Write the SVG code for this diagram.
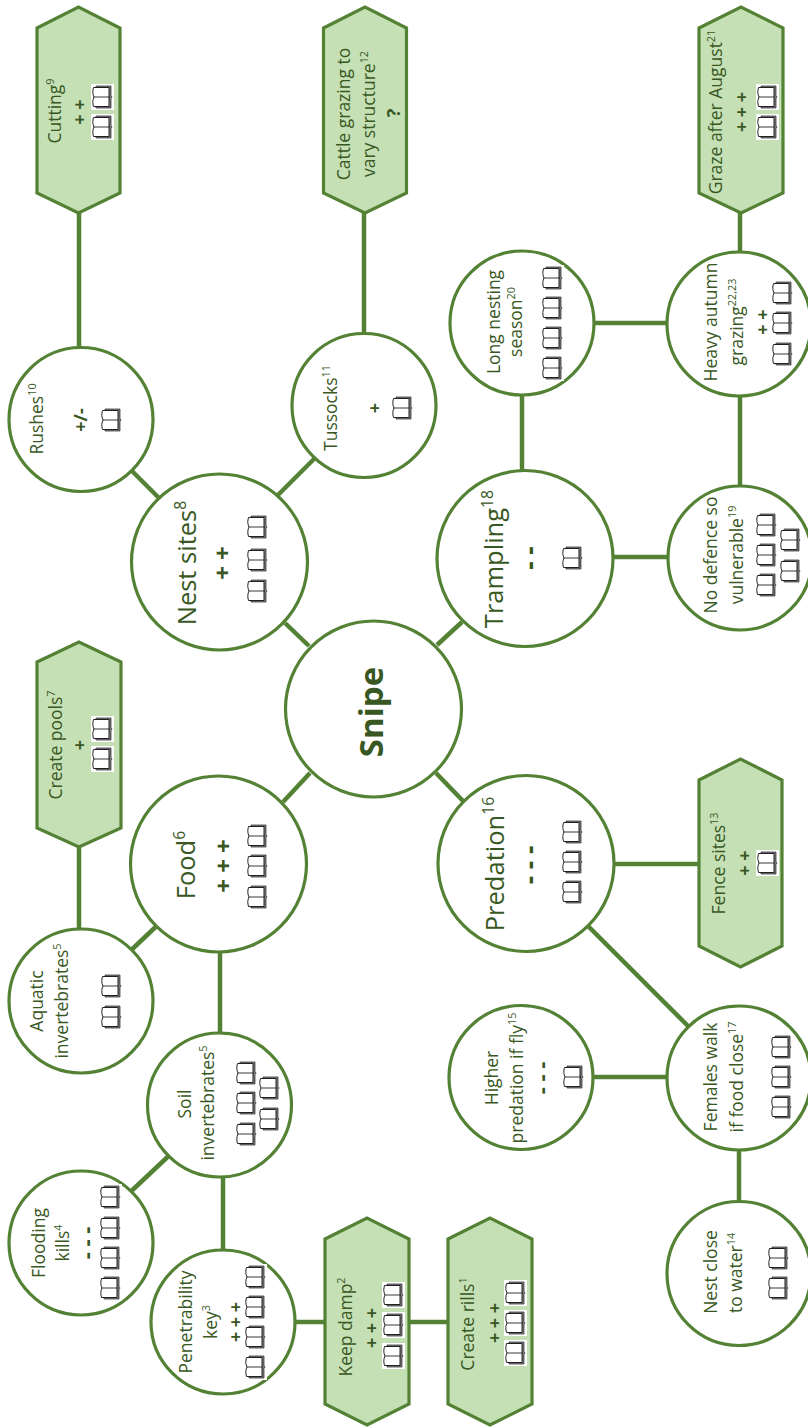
<svg xmlns="http://www.w3.org/2000/svg" width="808" height="1427" viewBox="0 0 808 1427">
<style>
text{font-family:"Open Sans","Liberation Sans",sans-serif;fill:#385723;text-anchor:middle}
.n{font-size:17.5px}.t{font-size:25.5px}.k{font-size:33px;font-weight:700}
.s{font-size:18px;font-weight:700}.b{font-size:24px;font-weight:700}.d{font-size:22px;font-weight:700}.e{font-size:26px;font-weight:700}
.u{font-size:0.62em}
.c{fill:#fff;stroke:#548235;stroke-width:3.2}
.h{fill:#C5E0B4;stroke:#548235;stroke-width:3.2}
#connectors line{stroke:#548235;stroke-width:4.5}
</style>
<defs>
<symbol id="b" width="23" height="26" viewBox="0 0 23 26">
<rect width="23" height="26" fill="#fff"/>
<path d="M5 2H20V11.5L21 13L20 14.500V24H5Z" fill="#808080" stroke="#222" stroke-width=".7"/>
<path d="M3 13C1.500 10 1.500 7 2.500 3.500H18V22.500H2.500C1.500 19 1.500 16 3 13Z" fill="#fff" stroke="#222" stroke-width="1"/>
<path d="M3 13H19" stroke="#222" stroke-width=".9" fill="none"/>
</symbol>
</defs>
<g id="connectors">
<line x1="285" y1="623" x2="309" y2="646"/><line x1="437" y1="645" x2="462" y2="622"/>
<line x1="283" y1="802" x2="310" y2="773"/><line x1="436" y1="773" x2="464" y2="802"/>
<line x1="125" y1="464" x2="165" y2="504"/><line x1="270" y1="503" x2="320" y2="453"/>
<line x1="79" y1="213" x2="79" y2="350"/><line x1="364" y1="213" x2="364" y2="340"/>
<line x1="522" y1="396" x2="522" y2="472"/><line x1="595" y1="323" x2="667" y2="323"/>
<line x1="740" y1="397" x2="740" y2="487"/><line x1="612" y1="557" x2="668" y2="557"/>
<line x1="740" y1="213" x2="740" y2="253"/><line x1="79" y1="847" x2="79" y2="930"/>
<line x1="125" y1="956" x2="165" y2="918"/><line x1="220" y1="950" x2="220" y2="1034"/>
<line x1="125" y1="1197" x2="175" y2="1150"/><line x1="223" y1="1176" x2="223" y2="1251"/>
<line x1="295" y1="1322" x2="325" y2="1322"/><line x1="409" y1="1322" x2="448" y2="1322"/>
<line x1="612" y1="864" x2="699" y2="864"/><line x1="593" y1="1077" x2="668" y2="1077"/>
<line x1="739" y1="1149" x2="739" y2="1203"/><line x1="580" y1="918" x2="690" y2="1028"/>
</g>
<g id="snipe"><circle class="c" cx="373.500" cy="709" r="88"/><text class="k" transform="translate(383,712) rotate(-90)">Snipe</text></g>
<g id="nest-sites"><circle class="c" cx="219.500" cy="562" r="88"/><text class="t" transform="translate(196,563) rotate(-90)">Nest sites<tspan class="u" dy="-10">8</tspan></text><text class="b" transform="translate(230.500,563) rotate(-90)">+ +</text><use href="#b" x="246" y="514"/><use href="#b" x="246" y="547"/><use href="#b" x="246" y="578"/></g>
<g id="food"><circle class="c" cx="218.500" cy="864" r="88"/><text class="t" transform="translate(195,865) rotate(-90)">Food<tspan class="u" dy="-10">6</tspan></text><text class="b" transform="translate(231.500,866) rotate(-90)">+ + +</text><use href="#b" x="246" y="823"/><use href="#b" x="246" y="853"/><use href="#b" x="246" y="884"/></g>
<g id="predation"><circle class="c" cx="526" cy="863.500" r="88"/><text class="t" transform="translate(504,864) rotate(-90)">Predation<tspan class="u" dy="-10">16</tspan></text><text class="e" transform="translate(539,865) rotate(-90)">- - -</text><use href="#b" x="561" y="819"/><use href="#b" x="561" y="849"/><use href="#b" x="561" y="879"/></g>
<g id="trampling"><circle class="c" cx="525" cy="558.500" r="88"/><text class="t" transform="translate(503,559) rotate(-90)">Trampling<tspan class="u" dy="-10">18</tspan></text><text class="e" transform="translate(539,558) rotate(-90)">- -</text><use href="#b" x="561" y="545"/></g>
<g id="rushes"><circle class="c" cx="81" cy="419.500" r="72"/><text class="n" transform="translate(43,419) rotate(-90)">Rushes<tspan class="u" dy="-7">10</tspan></text><text class="s" transform="translate(87,420) rotate(-90)">+/-</text><use href="#b" x="100" y="407"/></g>
<g id="tussocks"><circle class="c" cx="364" cy="405.500" r="72"/><text class="n" transform="translate(337,408) rotate(-90)">Tussocks<tspan class="u" dy="-7">11</tspan></text><text class="s" transform="translate(380.500,408) rotate(-90)">+</text><use href="#b" x="391" y="395"/></g>
<g id="long-nesting"><circle class="c" cx="522" cy="323" r="72"/><text class="n" transform="translate(500,322) rotate(-90)">Long nesting</text><text class="n" transform="translate(522,322) rotate(-90)">season<tspan class="u" dy="-7">20</tspan></text><use href="#b" x="541" y="265"/><use href="#b" x="541" y="295"/><use href="#b" x="541" y="325"/><use href="#b" x="541" y="355"/></g>
<g id="heavy-autumn"><circle class="c" cx="739" cy="324" r="72"/><text class="n" transform="translate(717,322) rotate(-90)">Heavy autumn</text><text class="n" transform="translate(743,322) rotate(-90)">grazing<tspan class="u" dy="-7">22,23</tspan></text><text class="s" transform="translate(768.500,322) rotate(-90)">+ +</text><use href="#b" x="771" y="280"/><use href="#b" x="771" y="310"/><use href="#b" x="771" y="341"/></g>
<g id="no-defence"><circle class="c" cx="740" cy="558" r="72"/><text class="n" transform="translate(717,555) rotate(-90)">No defence so</text><text class="n" transform="translate(743,555) rotate(-90)">vulnerable<tspan class="u" dy="-7">19</tspan></text><use href="#b" x="755" y="512"/><use href="#b" x="755" y="542"/><use href="#b" x="755" y="572"/><use href="#b" x="779" y="527"/><use href="#b" x="779" y="558"/></g>
<g id="aquatic"><circle class="c" cx="81" cy="1001" r="72"/><text class="n" transform="translate(43,1001) rotate(-90)">Aquatic</text><text class="n" transform="translate(68,1001) rotate(-90)">invertebrates<tspan class="u" dy="-7">5</tspan></text><use href="#b" x="100" y="973"/><use href="#b" x="100" y="1004"/></g>
<g id="soil"><circle class="c" cx="219.500" cy="1105" r="72"/><text class="n" transform="translate(191,1104) rotate(-90)">Soil</text><text class="n" transform="translate(214,1103) rotate(-90)">invertebrates<tspan class="u" dy="-7">5</tspan></text><use href="#b" x="235" y="1060"/><use href="#b" x="235" y="1090"/><use href="#b" x="235" y="1121"/><use href="#b" x="258" y="1075"/><use href="#b" x="258" y="1106"/></g>
<g id="flooding"><circle class="c" cx="81" cy="1243" r="72"/><text class="n" transform="translate(45,1243) rotate(-90)">Flooding</text><text class="n" transform="translate(69,1243) rotate(-90)">kills<tspan class="u" dy="-7">4</tspan></text><text class="d" transform="translate(94,1243) rotate(-90)">- - -</text><use href="#b" x="99" y="1184"/><use href="#b" x="99" y="1215"/><use href="#b" x="99" y="1245"/><use href="#b" x="99" y="1275"/></g>
<g id="penetrability"><circle class="c" cx="223" cy="1322" r="72"/><text class="n" transform="translate(192,1322) rotate(-90)">Penetrability</text><text class="n" transform="translate(217,1322) rotate(-90)">key<tspan class="u" dy="-7">3</tspan></text><text class="s" transform="translate(241.500,1322) rotate(-90)">+ + +</text><use href="#b" x="244" y="1264"/><use href="#b" x="244" y="1294"/><use href="#b" x="244" y="1324"/><use href="#b" x="244" y="1354"/></g>
<g id="higher-predation"><circle class="c" cx="521" cy="1077.500" r="72"/><text class="n" transform="translate(498,1078) rotate(-90)">Higher</text><text class="n" transform="translate(523,1078) rotate(-90)">predation if fly<tspan class="u" dy="-7">15</tspan></text><text class="d" transform="translate(549,1078) rotate(-90)">- - -</text><use href="#b" x="562" y="1064"/></g>
<g id="females"><circle class="c" cx="739" cy="1078" r="72"/><text class="n" transform="translate(717,1077) rotate(-90)">Females walk</text><text class="n" transform="translate(743,1077) rotate(-90)">if food close<tspan class="u" dy="-7">17</tspan></text><use href="#b" x="770" y="1034"/><use href="#b" x="770" y="1064"/><use href="#b" x="770" y="1094"/></g>
<g id="nest-close"><circle class="c" cx="739" cy="1273.500" r="72"/><text class="n" transform="translate(717,1272) rotate(-90)">Nest close</text><text class="n" transform="translate(742,1273) rotate(-90)">to water<tspan class="u" dy="-7">14</tspan></text><use href="#b" x="767" y="1245"/><use href="#b" x="767" y="1275"/></g>
<g id="cutting"><polygon class="h" points="37,28 78.500,7 120,28 120,193 78.500,213 37,193"/><text class="n" transform="translate(61,111) rotate(-90)">Cutting<tspan class="u" dy="-7">9</tspan></text><text class="s" transform="translate(85.500,112) rotate(-90)">+ +</text><use href="#b" x="91" y="84"/><use href="#b" x="91" y="114"/></g>
<g id="cattle"><polygon class="h" points="323.500,28 365,7 406.500,28 406.500,193 365,213 323.500,193"/><text class="n" transform="translate(350,114) rotate(-90)">Cattle grazing to</text><text class="n" transform="translate(375,114) rotate(-90)">vary structure<tspan class="u" dy="-7">12</tspan></text><text class="s" transform="translate(400,113) rotate(-90)">?</text></g>
<g id="graze"><polygon class="h" points="699,28 741,7 783,28 783,193 741,213 699,193"/><text class="n" transform="translate(722,112) rotate(-90)">Graze after August<tspan class="u" dy="-7">21</tspan></text><text class="s" transform="translate(747.500,112) rotate(-90)">+ + +</text><use href="#b" x="756" y="84"/><use href="#b" x="756" y="114"/></g>
<g id="create-pools"><polygon class="h" points="37,662 79,642 121,662 121,828 79,847 37,828"/><text class="n" transform="translate(62,745) rotate(-90)">Create pools<tspan class="u" dy="-7">7</tspan></text><text class="s" transform="translate(85.500,745) rotate(-90)">+</text><use href="#b" x="91" y="716"/><use href="#b" x="91" y="746"/></g>
<g id="fence"><polygon class="h" points="699,780 740.500,759 782,780 782,946 740.500,967 699,946"/><text class="n" transform="translate(725,863.500) rotate(-90)">Fence sites<tspan class="u" dy="-7">13</tspan></text><text class="s" transform="translate(750.500,863) rotate(-90)">+ +</text><use href="#b" x="756" y="850"/></g>
<g id="keep-damp"><polygon class="h" points="325,1239 367,1218 409,1239 409,1404 367,1425 325,1404"/><text class="n" transform="translate(352,1327) rotate(-90)">Keep damp<tspan class="u" dy="-7">2</tspan></text><text class="s" transform="translate(377.500,1328) rotate(-90)">+ + +</text><use href="#b" x="382" y="1282"/><use href="#b" x="382" y="1312"/><use href="#b" x="382" y="1343"/></g>
<g id="create-rills"><polygon class="h" points="448,1239 490,1218 532,1239 532,1404 490,1425 448,1404"/><text class="n" transform="translate(474,1324) rotate(-90)">Create rills<tspan class="u" dy="-7">1</tspan></text><text class="s" transform="translate(500.500,1323) rotate(-90)">+ + +</text><use href="#b" x="504" y="1280"/><use href="#b" x="504" y="1310"/><use href="#b" x="504" y="1340"/></g>
</svg>
